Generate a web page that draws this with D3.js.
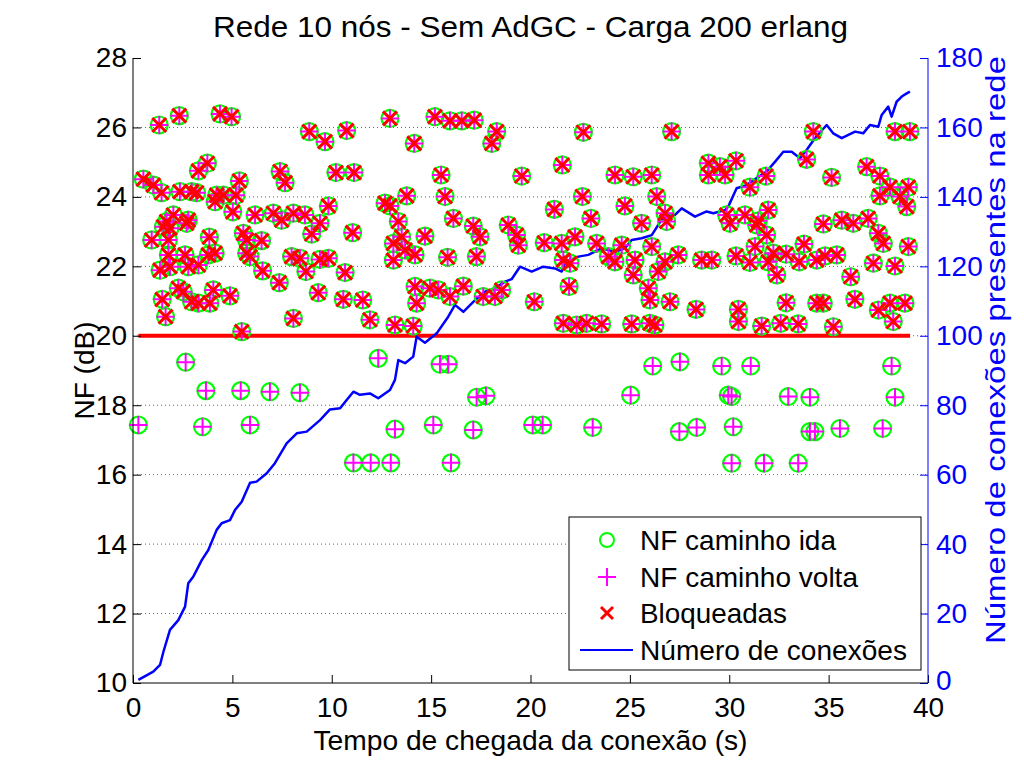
<!DOCTYPE html>
<html><head><meta charset="utf-8">
<script src="https://cdn.jsdelivr.net/npm/d3@7"></script>
<style>body{margin:0;background:#fff}svg{display:block;font-family:"Liberation Sans",Arial,sans-serif}</style>
</head><body><svg id="c" width="1024" height="768"></svg>
<script>
// ---- data ----
const titleText = "Rede 10 nós - Sem AdGC - Carga 200 erlang";
const xLabel = "Tempo de chegada da conexão (s)";
const yLeftLabel = "NF (dB)";
const yRightLabel = "Número de conexões presentes na rede";
const xTicks = [0,5,10,15,20,25,30,35,40];
const yLeftTicks = [10,12,14,16,18,20,22,24,26,28];
const yRightTicks = [0,20,40,60,80,100,120,140,160,180];
const nfLimit = 20;
const limitStart = 0.27, limitEnd = 39.1;

// blocked connections (NF > 20)
const blockedT = [1.32,2.33,4.38,4.96,8.87,9.66,10.75,12.93,3.29,3.74,7.40,7.65,10.21,11.12,0.52,1.02,1.44,2.36,2.95,3.20,4.21,4.13,4.55,5.35,5.18,5.02,12.68,12.93,9.83,6.14,7.06,7.48,8.07,8.65,9.41,1.69,2.03,2.78,
1.53,1.86,2.70,0.94,1.78,3.84,5.55,5.72,6.47,8.99,11.05,13.10,1.78,2.62,3.79,4.13,5.72,5.89,7.98,8.40,9.41,9.83,1.36,1.86,2.78,3.29,8.70,6.52,10.67,13.10,7.36,2.28,2.53,1.47,2.95,3.29,3.87,4.04,4.88,9.32,10.58,11.56,1.64,8.07,11.92,13.18,5.47,
15.19,15.95,16.54,17.17,18.30,18.05,14.15,22.66,15.50,19.56,21.60,24.25,25.17,26.10,13.77,15.70,22.61,21.20,24.75,23.04,26.35,25.59,16.12,17.12,18.88,13.35,
14.69,17.46,19.30,19.39,20.69,21.57,22.24,23.33,24.59,26.10,13.52,13.69,14.19,15.83,17.28,21.65,21.99,23.92,24.25,25.26,25.17,26.43,14.19,14.27,14.94,15.36,15.95,16.62,17.62,18.21,18.55,20.19,21.94,25.93,26.01,14.10,21.65,22.32,22.82,23.58,25.09,26.01,26.26,
27.10,34.23,38.34,39.09,33.89,28.95,29.53,30.34,29.79,28.95,31.85,31.04,35.15,36.91,37.58,38.09,39.01,37.58,38.59,38.93,26.77,26.85,29.87,30.04,30.79,31.46,31.96,34.73,35.66,36.24,36.99,
31.38,31.88,37.50,37.75,39.01,26.77,27.43,28.61,29.12,30.34,31.04,31.30,31.96,32.22,32.39,32.86,33.52,33.76,34.40,34.82,35.41,36.11,37.25,38.34,27.02,28.33,30.46,30.46,32.86,34.40,34.73,36.32,37.50,38.09,38.84,38.25,31.63,32.59,33.47,35.24];
const blockedNF = [26.07,26.34,26.39,26.31,25.88,25.59,25.91,26.26,24.75,24.97,24.73,24.41,24.70,24.70,24.51,24.34,24.12,24.15,24.15,24.12,24.05,23.86,24.05,24.46,24.05,23.57,23.82,23.74,23.74,23.48,23.53,23.33,23.53,23.48,23.24,23.29,23.48,23.33,
23.14,23.10,23.24,22.76,22.76,22.84,22.95,22.76,22.74,22.93,22.97,22.66,22.33,22.33,22.33,22.38,22.38,22.28,22.28,22.23,22.20,22.23,21.89,21.99,21.99,22.04,21.85,21.87,21.82,22.18,21.53,21.37,21.27,21.05,20.98,20.94,20.94,21.32,21.15,21.24,21.05,21.03,20.55,20.50,20.46,20.31,20.12,
26.31,26.19,26.19,26.21,25.88,25.54,25.54,25.86,24.63,24.60,24.92,24.63,24.58,24.63,24.03,24.01,24.01,23.64,23.74,23.38,24.01,23.24,23.38,23.16,23.19,23.29,
22.87,22.85,22.90,22.61,22.68,22.66,22.85,22.66,22.61,22.57,22.85,22.47,22.33,22.26,22.28,22.18,22.09,22.28,22.13,22.18,21.75,21.85,21.42,20.94,21.37,21.32,21.13,21.43,21.13,21.13,21.32,20.98,21.42,21.37,21.03,20.28,20.36,20.31,20.36,20.34,20.34,20.36,20.31,
25.88,25.88,25.88,25.88,25.08,24.97,24.87,25.04,24.63,24.63,24.60,24.28,24.56,24.87,24.60,24.28,24.28,24.03,24.01,23.72,23.53,23.29,23.48,23.24,23.48,23.31,23.62,23.22,23.33,23.24,23.38,
23.19,22.90,22.95,22.66,22.57,22.13,22.33,22.18,22.18,22.30,22.11,22.57,22.13,22.38,21.75,22.35,22.13,22.64,22.18,22.30,22.33,21.70,22.09,22.01,20.98,20.76,20.76,20.41,20.95,20.94,20.94,21.05,20.74,20.94,20.94,20.41,20.28,20.36,20.34,20.26];

// accepted connections (NF <= 20)
const acceptedT = [0.27,2.65,3.67,3.50,5.42,5.89,6.89,8.40,11.09,11.96,12.97,12.34,13.18,15.11,15.45,15.86,16.00,17.12,17.29,17.76,20.11,20.61,23.13,25.04,26.15,27.52,27.49,28.36,29.62,31.08,29.95,30.12,30.20,30.12,31.75,33.47,32.97,34.06,34.06,34.31,35.57,37.72,38.17,38.34];
const acceptedNF = [17.43,19.24,18.42,17.38,18.42,17.43,18.39,18.36,16.34,16.34,16.34,19.35,17.31,17.43,19.18,19.18,16.34,17.29,18.23,18.27,17.43,17.43,17.36,18.29,19.13,19.25,17.24,17.36,19.13,19.13,18.29,18.25,17.38,16.33,16.33,16.33,18.25,18.23,17.24,17.24,17.33,17.33,19.13,18.23];

// number of connections in the network
const connT = [0.27,1.02,1.36,1.53,1.86,2.28,2.62,2.78,3.03,3.46,3.79,4.21,4.46,4.88,5.13,5.47,5.89,6.22,6.73,7.14,7.73,8.24,8.74,9.41,9.91,10.42,10.75,11.09,11.42,11.92,12.34,12.93,13.18,13.35,13.69,14.10,14.27,14.69,15.28,15.86,16.2,16.62,17.21,17.71,18.21,18.72,19.05,19.47,20.06,20.64,21.23,21.57,21.74,22.41,22.91,23.58,24.25,24.75,25.09,25.59,26.10,26.6,26.85,27.27,27.61,28.28,28.86,29.2,29.79,29.95,30.37,30.88,31.38,31.88,32.3,32.72,33.14,33.56,33.89,34.31,34.9,35.23,35.66,36.33,36.74,37.08,37.5,37.67,38.0,38.17,38.42,38.68,38.93,39.09];
const connN = [0.9,3.3,5.2,9.0,15.3,18.1,22.0,28.7,30.6,35.4,38.3,44.1,46.0,46.9,49.8,52.2,57.7,58.0,60.4,63.3,69.0,71.9,72.4,75.7,78.8,79.1,81.5,83.9,83.0,83.4,82.0,84.4,87.3,93.0,92.1,94.0,99.7,98.0,100.7,105.5,108.9,106.9,110.3,112.7,113.7,115.6,116.3,119.9,118.5,119.9,119.4,118.5,120.9,122.8,123.3,125.2,124.2,125.2,127.6,128.1,129.0,133.5,134.8,134.8,136.7,134.3,135.8,135.3,136.2,137.2,142.5,143.4,145.4,147.3,150.1,153.0,153.0,151.1,153.5,156.9,160.7,158.3,156.9,158.8,158.3,160.7,160.2,163.6,166.0,163.1,167.4,168.9,169.8,170.3];

const legendLabels = ["NF caminho ida","NF caminho volta","Bloqueadas","Número de conexões"];

// ---- drawing ----
const L=133, R=928, T=58, B=683;
const svg = d3.select("#c");
const x = d3.scaleLinear().domain([0,40]).range([L,R]);
const yL = d3.scaleLinear().domain([10,28]).range([B,T]);
const yR = d3.scaleLinear().domain([0,180]).range([B,T]);
const FS = 28;
const green="#00ff00", magenta="#ff00ff", red="#ff0000", blue="#0000ff";

// grid
svg.append("g").selectAll("line").data(yLeftTicks.filter(d=>d>10&&d<28)).join("line")
  .attr("x1",L).attr("x2",R).attr("y1",d=>yL(d)).attr("y2",d=>yL(d))
  .attr("stroke","#3a3ad0").attr("stroke-width",1).attr("stroke-dasharray","1,3").attr("opacity",0.85);

// red threshold line
svg.append("line").attr("x1",x(limitStart)).attr("x2",x(limitEnd)).attr("y1",yL(nfLimit)).attr("y2",yL(nfLimit))
  .attr("stroke",red).attr("stroke-width",4);

// connections line
const line = d3.line().x((d,i)=>x(connT[i])).y(d=>yR(d));
svg.append("path").datum(connN).attr("d",line).attr("fill","none").attr("stroke",blue).attr("stroke-width",2.5).attr("stroke-linejoin","round");

const allT = blockedT.concat(acceptedT), allNF = blockedNF.concat(acceptedNF);
const idx = d3.range(allT.length);
// circles
svg.append("g").selectAll("circle").data(idx).join("circle")
  .attr("cx",i=>x(allT[i])).attr("cy",i=>yL(allNF[i])).attr("r",8.5)
  .attr("fill","none").attr("stroke",green).attr("stroke-width",2.2);
// plus
svg.append("g").selectAll("path").data(idx).join("path")
  .attr("d",i=>{const cx=x(allT[i]),cy=yL(allNF[i]),s=9;return `M${cx-s},${cy}H${cx+s}M${cx},${cy-s}V${cy+s}`;})
  .attr("stroke",magenta).attr("stroke-width",2).attr("fill","none");
// x
svg.append("g").selectAll("path").data(d3.range(blockedT.length)).join("path")
  .attr("d",i=>{const cx=x(blockedT[i]),cy=yL(blockedNF[i]),s=7;return `M${cx-s},${cy-s}L${cx+s},${cy+s}M${cx-s},${cy+s}L${cx+s},${cy-s}`;})
  .attr("stroke",red).attr("stroke-width",3).attr("fill","none");

// axes
const axB = svg.append("g").attr("transform",`translate(0,${B})`)
  .call(d3.axisBottom(x).tickValues(xTicks).tickSize(-8).tickPadding(14).tickFormat(d3.format("d")));
const axL = svg.append("g").attr("transform",`translate(${L},0)`)
  .call(d3.axisLeft(yL).tickValues(yLeftTicks).tickSize(-8).tickPadding(6).tickFormat(d3.format("d")));
const axR = svg.append("g").attr("transform",`translate(${R},0)`)
  .call(d3.axisRight(yR).tickValues(yRightTicks).tickSize(-8).tickPadding(8).tickFormat(d3.format("d")));
[axB,axL,axR].forEach(a=>{a.select(".domain").remove();a.selectAll("text").attr("font-size",FS).attr("font-family","Liberation Sans, Arial, sans-serif");});
axB.selectAll("text").attr("fill","#000");
axB.selectAll("line").attr("stroke","#000");
axL.selectAll("text").attr("fill","#000");
axL.selectAll("line").attr("stroke","#000");
axR.selectAll("text").attr("fill",blue);
axR.selectAll("line").attr("stroke",blue);
// lift the right-axis "0" label slightly so it does not touch the bottom "40"
axR.selectAll(".tick").filter(d=>d===0).select("text").attr("dy","0.22em");
svg.append("line").attr("x1",L).attr("x2",L).attr("y1",T).attr("y2",B).attr("stroke","#000");
svg.append("line").attr("x1",L).attr("x2",R).attr("y1",B).attr("y2",B).attr("stroke","#000");
svg.append("line").attr("x1",R).attr("x2",R).attr("y1",T).attr("y2",B).attr("stroke",blue);

// titles
svg.append("text").attr("x",(L+R)/2).attr("y",37).attr("text-anchor","middle").attr("font-size",30)
  .attr("textLength",635).attr("lengthAdjust","spacingAndGlyphs").text(titleText);
svg.append("text").attr("x",(L+R)/2).attr("y",750).attr("text-anchor","middle").attr("font-size",FS)
  .attr("textLength",434).attr("lengthAdjust","spacingAndGlyphs").text(xLabel);
svg.append("text").attr("transform",`translate(94,${(T+B)/2}) rotate(-90)`).attr("text-anchor","middle").attr("font-size",FS).text(yLeftLabel);
svg.append("text").attr("transform",`translate(1005,350) rotate(-90)`).attr("text-anchor","middle").attr("font-size",FS).attr("fill",blue)
  .attr("textLength",588).attr("lengthAdjust","spacingAndGlyphs").text(yRightLabel);

// legend
const lg = svg.append("g");
lg.append("rect").attr("x",569).attr("y",517).attr("width",352).attr("height",153).attr("fill","#fff").attr("stroke","#000");
const rows=[540,577,613,650];
lg.append("circle").attr("cx",607).attr("cy",rows[0]).attr("r",7).attr("fill","none").attr("stroke",green).attr("stroke-width",2);
lg.append("path").attr("d",`M598,${rows[1]}H616M607,${rows[1]-9}V${rows[1]+9}`).attr("stroke",magenta).attr("stroke-width",2);
lg.append("path").attr("d",`M601,${rows[2]-6}L613,${rows[2]+6}M601,${rows[2]+6}L613,${rows[2]-6}`).attr("stroke",red).attr("stroke-width",3);
lg.append("line").attr("x1",580).attr("x2",633).attr("y1",rows[3]).attr("y2",rows[3]).attr("stroke",blue).attr("stroke-width",2);
const legendWidths=[196,218,147,267];
lg.selectAll("text").data(legendLabels).join("text").attr("x",640).attr("y",(d,i)=>rows[i]+10).attr("font-size",FS)
  .attr("textLength",(d,i)=>legendWidths[i]).attr("lengthAdjust","spacingAndGlyphs").text(d=>d);
</script></body></html>
